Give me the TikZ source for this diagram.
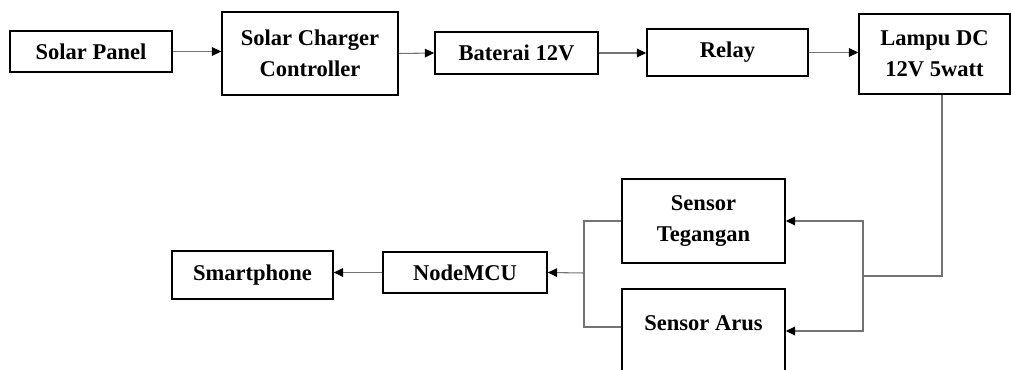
\documentclass[tikz,border=0pt]{standalone}
\usepackage{fontspec}
\setmainfont{Liberation Serif}
\usetikzlibrary{arrows.meta,calc}

\begin{document}
\begin{tikzpicture}[x=.75pt,y=-.75pt,
  every node/.style={inner sep=2pt},
  blok/.style={draw,line width=1.2pt,align=center,
    font=\fontsize{16.9}{23.5}\selectfont\bfseries},
  ukuran/.style 2 args={minimum width=#1*.75pt,minimum height=#2*.75pt},
  sambung/.style={draw=black!55,line width=.8pt},
  panah/.style={sambung,-{Triangle[length=7pt,width=6.5pt,black]}}]
\useasboundingbox (0,0) rectangle (1011,370);
\node[blok,ukuran={162}{41}] (panel) at (91,51.5) {Solar Panel};
\node[blok,ukuran={176}{83}] (scc) at (310,53.5) {Solar Charger\\Controller};
\node[blok,ukuran={163}{42}] (baterai) at (516.5,53) {Baterai 12V};
\node[blok,ukuran={161}{47}] (relay) at (727.5,52.5) {Relay};
\node[blok,ukuran={151}{80}] (lampu) at (934.5,54) {Lampu DC\\12V 5watt};
\node[blok,ukuran={163}{84}] (tegangan) at (703.5,221) {Sensor\\Tegangan};
\node[blok,ukuran={163}{99}] (arus) at (703.5,338.5) {Sensor Arus\\~};
\node[blok,ukuran={164}{41}] (mcu) at (465,272.5) {NodeMCU};
\node[blok,ukuran={161}{48}] (hp) at (252.5,275) {Smartphone};
\coordinate (turun) at (942,276);
\coordinate (kanan) at (863,276);
\coordinate (kiri) at (584,273);
\draw[panah] (panel.east)--(scc.west |- panel.east);
\draw[panah] (scc.east)--(baterai.west);
\draw[panah] (baterai.east)--(relay.west |- baterai.east);
\draw[panah] (relay.east)--(lampu.west |- relay.east);
\draw[sambung] (lampu.south -| turun)--(turun)--(kanan);
\draw[panah] (kanan)|-(tegangan.east);
\draw[panah] (kanan)|-($(arus.east)+(0,-7.5)$);
\draw[sambung] (tegangan.west)-|(kiri);
\draw[sambung] ($(arus.west)+(0,-11.5)$)-|(kiri);
\draw[panah] (kiri)--(mcu.east);
\draw[panah] (mcu.west)--(hp.east |- mcu.west);
\end{tikzpicture}
\end{document}
